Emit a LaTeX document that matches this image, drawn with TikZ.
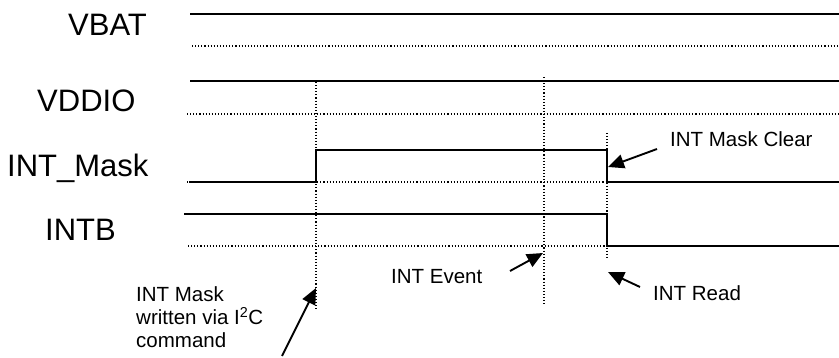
\documentclass[tikz,border=0pt]{standalone}
\usepackage{fontspec}
\setmainfont{Liberation Sans}
\usetikzlibrary{arrows.meta}

\begin{document}
\begin{tikzpicture}[x=1pt, y=-1pt,
        sig/.style={black, line width=1.6pt},
        grid/.style={black, line width=1.1pt, dotted},
        pin/.style={black, line width=1.9pt, -{Triangle[length=16pt,width=14pt]}},
        signame/.style={font=\fontsize{31}{36}\selectfont, inner sep=0pt, anchor=base west},
        note/.style={font=\fontsize{20.5}{23}\selectfont, inner sep=0pt, anchor=base west, align=left}]
        \useasboundingbox (0,0) rectangle (839,358);
        % signal names
        \node[signame] (vbat) at (68,36) {VBAT};
        \node[signame] (vddio) at (37,112) {VDDIO};
        \node[signame] (intmask) at (7,177) {INT\_Mask};
        \node[signame] (intb) at (45,241) {INTB};
        % waveforms
        \draw[sig] (190,14) -- (839,14);
        \draw[grid] (192,46) -- (839,46);
        \draw[sig] (190,81) -- (839,81);
        \draw[grid] (187,114) -- (839,114);
        \draw[grid] (187,182) -- (607,182);
        \draw[sig] (189,182) -- (316,182) -- (316,150) -- (607,150) -- (607,182) -- (839,182);
        \draw[grid] (188,246) -- (607,246);
        \draw[sig] (184,214) -- (607,214) -- (607,246) -- (839,246);
        % time markers
        \draw[grid] (316,82) -- (316,310);
        \draw[grid] (544,77) -- (544,305);
        \draw[grid] (607,133) -- (607,258);
        % notes
        \node[note] (clear) at (670,147) {INT Mask Clear};
        \node[note] (event) at (391,284) {INT Event};
        \node[note] (read) at (653,301) {INT Read};
        \node[note] (write) at (136,348) {INT Mask\\written via I\textsuperscript{2}C\\command};
        \coordinate (clearfrom) at (657,149);
        \coordinate (clearto) at (608,167);
        \coordinate (eventfrom) at (510,271);
        \coordinate (eventto) at (543,253);
        \coordinate (readfrom) at (640,287);
        \coordinate (readto) at (608,272);
        \coordinate (writefrom) at (282,356);
        \coordinate (writeto) at (316,288);
        \draw[pin] (clearfrom) -- (clearto);
        \draw[pin] (eventfrom) -- (eventto);
        \draw[pin] (readfrom) -- (readto);
        \draw[pin] (writefrom) -- (writeto);
\end{tikzpicture}
\end{document}
